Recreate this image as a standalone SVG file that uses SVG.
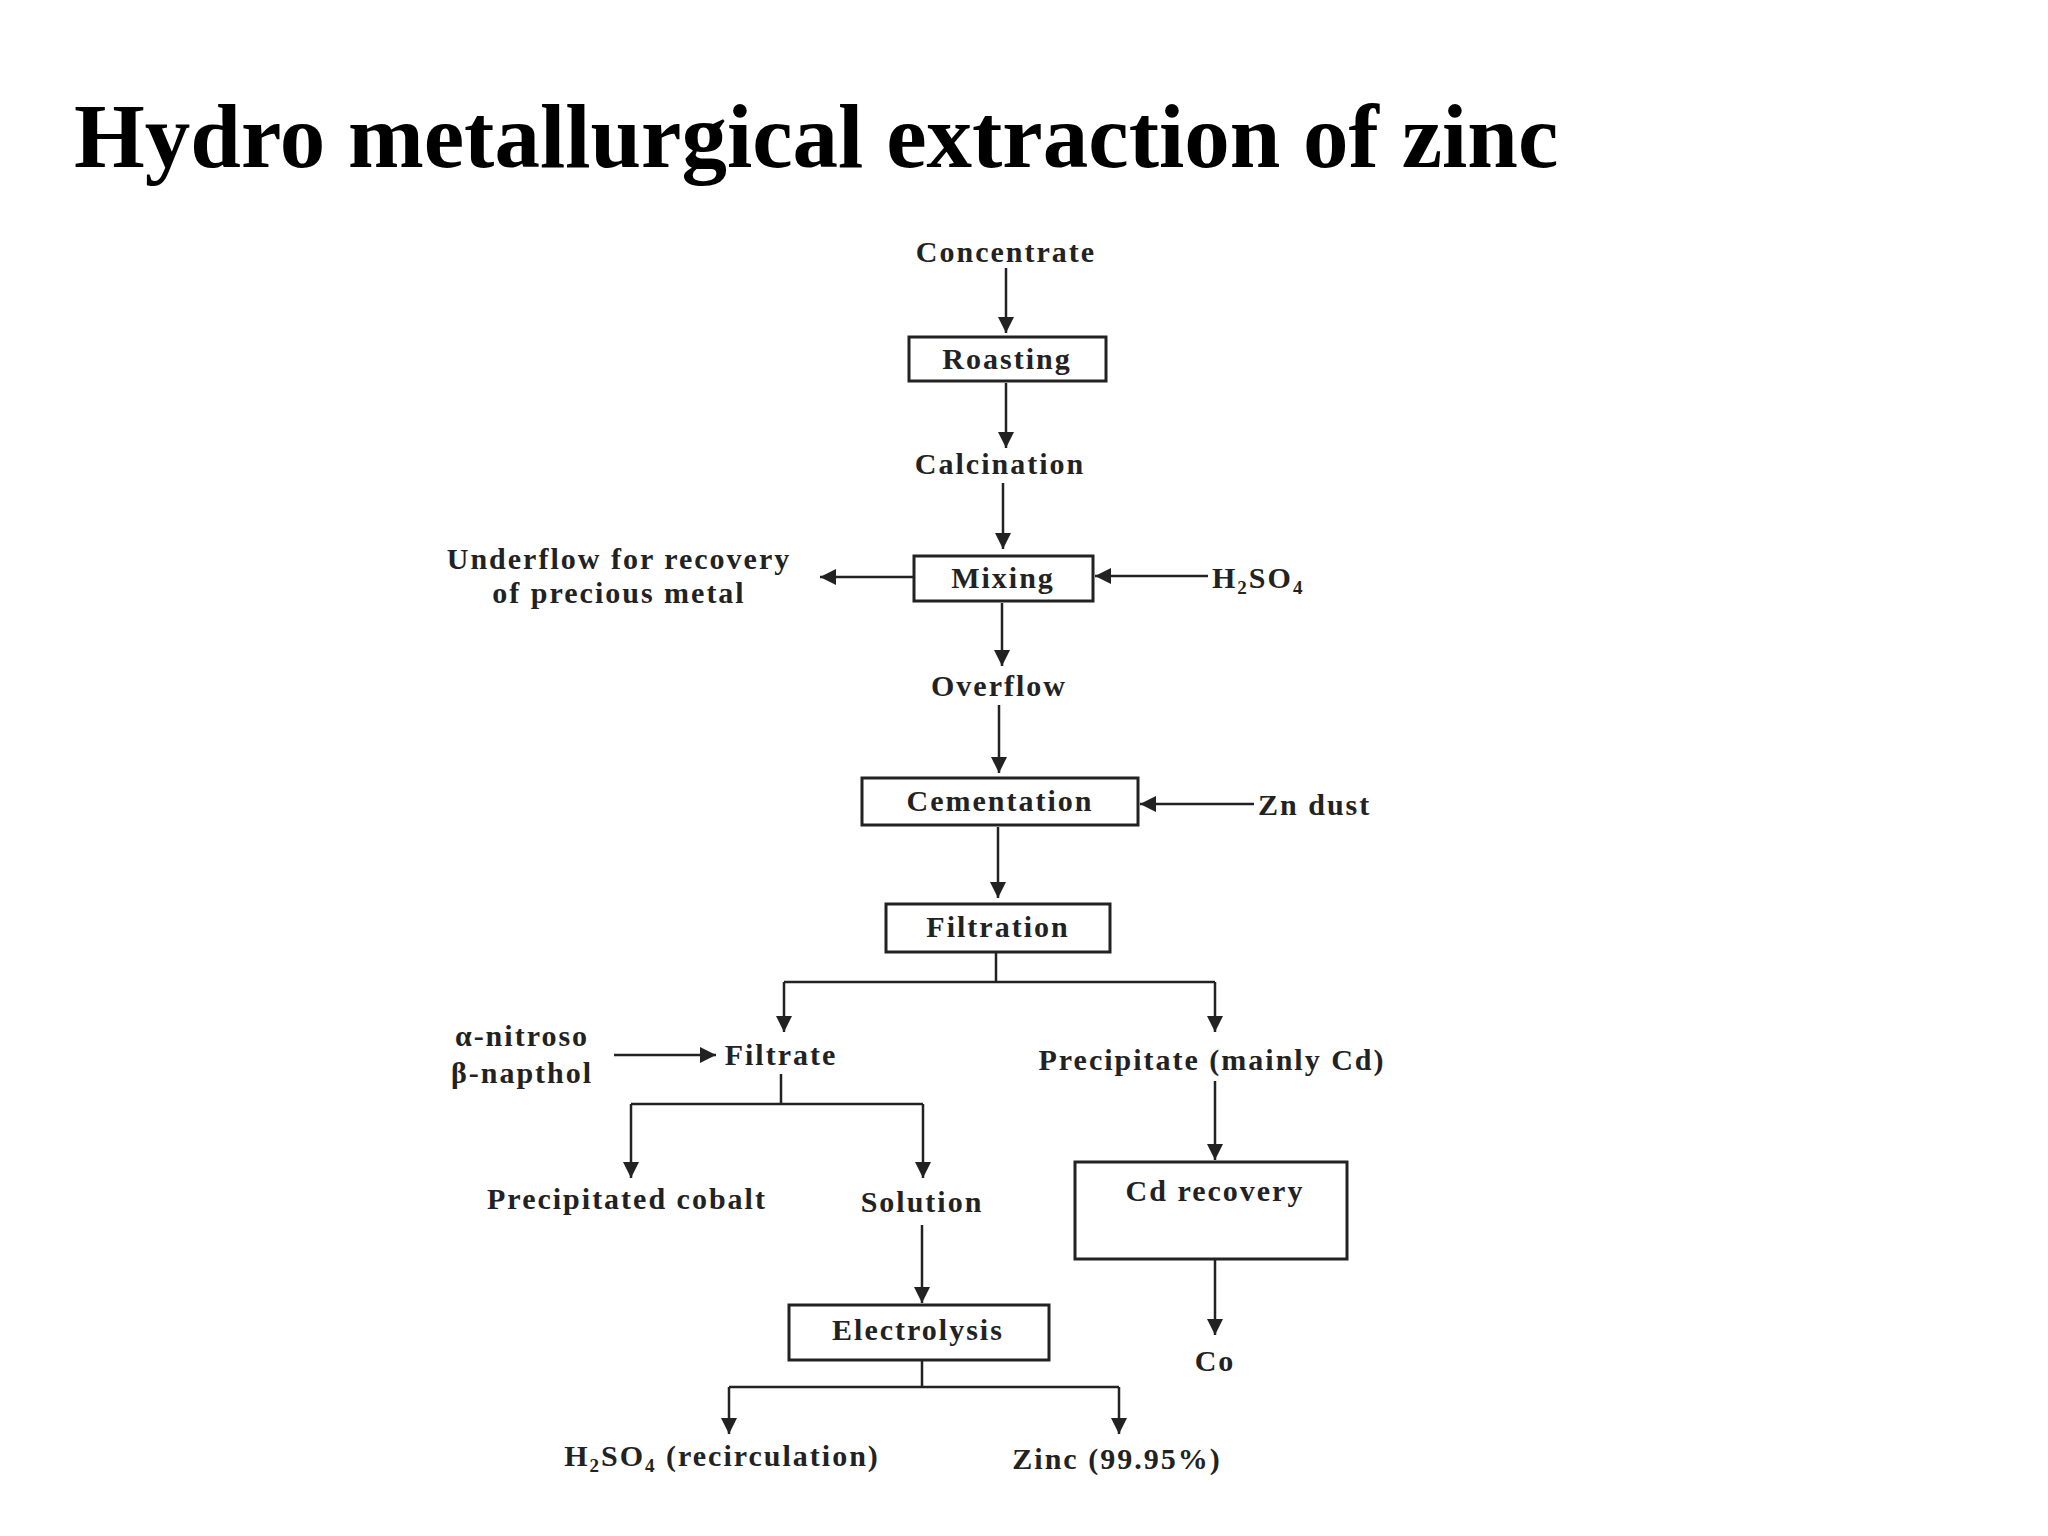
<svg xmlns="http://www.w3.org/2000/svg" width="2048" height="1536" viewBox="0 0 2048 1536">
<style>
.t{font-family:"Liberation Serif",serif;font-size:30px;font-weight:bold;fill:#222;text-anchor:middle;letter-spacing:2px}
.b{fill:none;stroke:#222;stroke-width:3}
.l{stroke:#222;stroke-width:2.5;fill:none}
.a{stroke:#222;stroke-width:2.5;fill:none;marker-end:url(#ar2)}
</style>
<defs>
<marker id="ar2" viewBox="0 0 10 10" markerWidth="18" markerHeight="16" refX="10" refY="5" orient="auto" markerUnits="userSpaceOnUse"><path d="M0,0 L10,5 L0,10 z" fill="#222"/></marker></defs>
<rect width="2048" height="1536" fill="#fff"/>
<text x="74" y="167" font-family="Liberation Serif,serif" font-size="91" font-weight="bold">Hydro metallurgical extraction of zinc</text>
<g id="connectors">
<path class="a" d="M1006,268 V333"/>
<path class="a" d="M1006,383 V448"/>
<path class="a" d="M1003,483 V549"/>
<path class="a" d="M914,577 H820"/>
<path class="a" d="M1208,576 H1095"/>
<path class="a" d="M1002,603 V666"/>
<path class="a" d="M999,705 V773"/>
<path class="a" d="M1254,804 H1140"/>
<path class="a" d="M998,827 V898"/>
<path class="l" d="M996,952 V982 M784,982 H1215"/>
<path class="a" d="M784,982 V1032"/>
<path class="a" d="M1215,982 V1032"/>
<path class="a" d="M614,1055 H716"/>
<path class="l" d="M781,1074 V1104 M631,1104 H923"/>
<path class="a" d="M631,1104 V1178"/>
<path class="a" d="M923,1104 V1178"/>
<path class="a" d="M1215,1081 V1160"/>
<path class="a" d="M1215,1260 V1335"/>
<path class="a" d="M922,1225 V1303"/>
<path class="l" d="M922,1360 V1387 M729,1387 H1119"/>
<path class="a" d="M729,1387 V1434"/>
<path class="a" d="M1119,1387 V1434"/>
</g>
<g id="concentrate"><text class="t" x="1006" y="262">Concentrate</text></g>
<g id="roasting"><rect class="b" x="909" y="337" width="197" height="44"/><text class="t" x="1007" y="369">Roasting</text></g>
<g id="calcination"><text class="t" x="1000" y="474">Calcination</text></g>
<g id="mixing"><rect class="b" x="914" y="556" width="179" height="45"/><text class="t" x="1003" y="588">Mixing</text></g>
<g id="underflow"><text class="t" x="619" y="569">Underflow for recovery</text><text class="t" x="619" y="603">of precious metal</text></g>
<g id="h2so4"><text class="t" x="1212" y="588" style="text-anchor:start">H<tspan font-size="19" dy="6">2</tspan><tspan dy="-6">SO</tspan><tspan font-size="19" dy="6">4</tspan></text></g>
<g id="overflow"><text class="t" x="999" y="696">Overflow</text></g>
<g id="cementation"><rect class="b" x="862" y="778" width="276" height="47"/><text class="t" x="1000" y="811">Cementation</text></g>
<g id="zndust"><text class="t" x="1258" y="815" style="text-anchor:start">Zn dust</text></g>
<g id="filtration"><rect class="b" x="886" y="904" width="224" height="48"/><text class="t" x="998" y="937">Filtration</text></g>
<g id="nitroso"><text class="t" x="522" y="1046">α-nitroso</text><text class="t" x="522" y="1083">β-napthol</text></g>
<g id="filtrate"><text class="t" x="781" y="1065">Filtrate</text></g>
<g id="precipitate"><text class="t" x="1212" y="1070">Precipitate (mainly Cd)</text></g>
<g id="cobalt"><text class="t" x="627" y="1209">Precipitated cobalt</text></g>
<g id="solution"><text class="t" x="922" y="1212">Solution</text></g>
<g id="cdrecovery"><rect class="b" x="1075" y="1162" width="272" height="97"/><text class="t" x="1215" y="1201">Cd recovery</text></g>
<g id="co"><text class="t" x="1215" y="1371">Co</text></g>
<g id="electrolysis"><rect class="b" x="789" y="1305" width="260" height="55"/><text class="t" x="918" y="1340">Electrolysis</text></g>
<g id="h2so4r"><text class="t" x="722" y="1466">H<tspan font-size="19" dy="6">2</tspan><tspan dy="-6">SO</tspan><tspan font-size="19" dy="6">4</tspan><tspan dy="-6"> (recirculation)</tspan></text></g>
<g id="zinc"><text class="t" x="1117" y="1469">Zinc (99.95%)</text></g>
</svg>
